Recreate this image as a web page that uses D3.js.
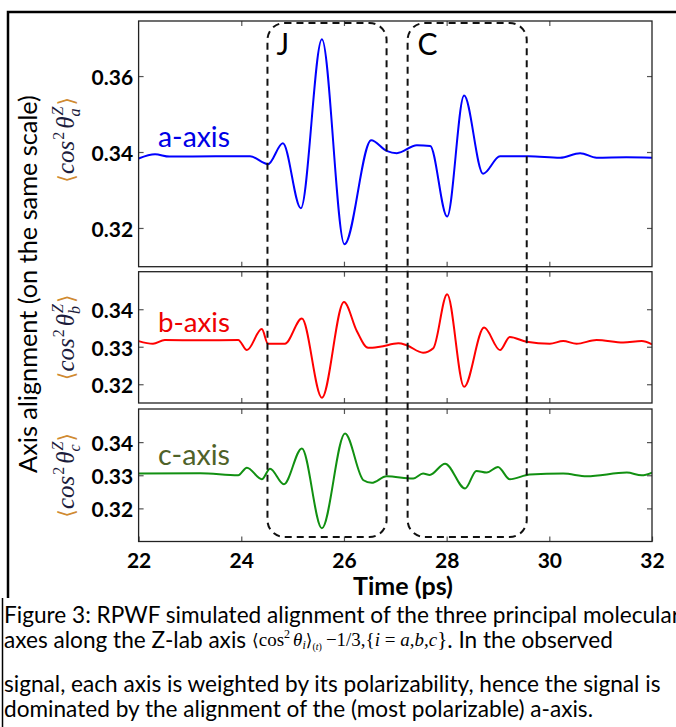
<!DOCTYPE html>
<html>
<head>
<meta charset="utf-8">
<script src="https://cdn.jsdelivr.net/npm/d3@7"></script>
<style>
body { margin: 0; background: #fff; }
svg { display: block; font-family: Lato, "Open Sans", sans-serif; }
</style>
</head>
<body>
<div id="main"></div>
<script>
// time axis (ps)
var xTicks = [22, 24, 26, 28, 30, 32];

// a-axis alignment
var timeA  = [22.0, 22.32, 22.6, 23.5, 24.17, 24.52, 24.81, 25.16, 25.57, 26.01, 26.53, 26.83, 27.03, 27.42, 27.68, 28.01, 28.34, 28.71, 29.04, 29.6, 30.21, 30.60, 30.92, 31.5, 32.0];
var alignA = [0.3383, 0.3394, 0.3388, 0.3389, 0.3389, 0.3368, 0.3423, 0.3252, 0.3697, 0.3157, 0.3431, 0.3403, 0.3397, 0.3418, 0.3416, 0.3230, 0.3549, 0.3343, 0.3389, 0.3389, 0.3385, 0.3397, 0.3385, 0.3386, 0.3385];

// b-axis alignment
var timeB  = [22.0, 22.28, 22.51, 23.2, 23.94, 24.11, 24.40, 24.52, 24.85, 25.18, 25.57, 26.00, 26.25, 26.47, 26.70, 27.06, 27.22, 27.54, 27.74, 28.01, 28.34, 28.73, 29.04, 29.23, 29.56, 30.01, 30.27, 30.53, 30.92, 31.44, 31.80, 32.0];
var alignB = [0.3315, 0.3308, 0.3318, 0.3317, 0.3318, 0.3291, 0.3347, 0.3308, 0.3308, 0.3375, 0.3164, 0.3419, 0.3342, 0.3297, 0.3300, 0.3309, 0.3304, 0.3284, 0.3296, 0.3440, 0.3193, 0.3351, 0.3291, 0.3326, 0.3313, 0.3308, 0.3315, 0.3308, 0.3318, 0.3311, 0.3315, 0.3306];

// c-axis alignment
var timeC  = [22.0, 23.2, 23.94, 24.11, 24.40, 24.56, 24.83, 25.18, 25.57, 26.02, 26.38, 26.54, 26.83, 27.35, 27.54, 27.67, 27.97, 28.36, 28.58, 28.78, 29.00, 29.23, 29.62, 30.27, 30.73, 31.51, 31.80, 32.0];
var alignC = [0.3305, 0.3306, 0.3300, 0.3323, 0.3288, 0.3320, 0.3273, 0.3381, 0.3140, 0.3426, 0.3285, 0.3277, 0.3297, 0.3290, 0.3305, 0.3301, 0.3335, 0.3260, 0.3313, 0.3308, 0.3325, 0.3288, 0.3302, 0.3305, 0.3297, 0.3308, 0.3300, 0.3308];

var ticksA = [0.32, 0.34, 0.36];
var ticksB = [0.32, 0.33, 0.34];
var ticksC = [0.32, 0.33, 0.34];

// dashed regions J and C
var regionNames = ["J", "C"];
var regionStart = [24.51, 27.24];
var regionEnd   = [26.83, 29.56];

var captionLines = [
    "Figure 3: RPWF simulated alignment of the three principal molecular",
    "axes along the Z-lab axis",
    ". In the observed",
    "signal, each axis is weighted by its polarizability, hence the signal is",
    "dominated by the alignment of the (most polarizable) a-axis."
];

var ctx = {
    w: 676,
    h: 727,
    left: 138.6,
    right: 652,
    boxTop: 23,
    boxBottom: 537
};

var panels = [
    { time: timeA, value: alignA, domain: [0.3098, 0.3745], top: 21, bottom: 266.7, ticks: ticksA,
      color: "#0000ff", label: "a-axis", labelColor: "#0000e6", labelY: 147, sub: "a" },
    { time: timeB, value: alignB, domain: [0.315, 0.35], top: 271.7, bottom: 403, ticks: ticksB,
      color: "#ff0000", label: "b-axis", labelColor: "#ee0000", labelY: 331.5, sub: "b" },
    { time: timeC, value: alignC, domain: [0.31, 0.35], top: 409, bottom: 541.5, ticks: ticksC,
      color: "#119011", label: "c-axis", labelColor: "#4f6228", labelY: 465, sub: "c" }
];

// scale a text's font size so it spans the given width
var fitWidth = function(sel, w) {
    sel.each(function() {
        var n = this.getComputedTextLength();
        var fs = parseFloat(d3.select(this).style("font-size"));
        if (n > 0) d3.select(this).style("font-size", (fs * w / n) + "px");
    });
};

var svg = d3.select("#main").append("svg")
    .attr("width", ctx.w)
    .attr("height", ctx.h);

var x = d3.scaleLinear().domain([22, 32]).range([ctx.left, ctx.right]);

// outer frame and caption rule
svg.append("path")
    .attr("d", "M8,598V12H676")
    .attr("fill", "none")
    .attr("stroke", "#000")
    .attr("stroke-width", 2.5);
svg.append("line")
    .attr("x1", 2.5).attr("x2", 2.5).attr("y1", 598).attr("y2", 727)
    .attr("stroke", "#000").attr("stroke-width", 1.5);

var line = d3.line().curve(d3.curveMonotoneX);

panels.forEach(function(p, i) {
    var y = d3.scaleLinear().domain(p.domain).range([p.bottom, p.top]);
    var g = svg.append("g");

    g.append("clipPath").attr("id", "clip" + i)
        .append("rect")
        .attr("x", ctx.left).attr("y", p.top)
        .attr("width", ctx.right - ctx.left).attr("height", p.bottom - p.top);

    // the curve
    g.append("path")
        .datum(p.time.map(function(t, k) { return [x(t), y(p.value[k])]; }))
        .attr("d", line)
        .attr("clip-path", "url(#clip" + i + ")")
        .attr("fill", "none")
        .attr("stroke", p.color)
        .attr("stroke-width", 2);

    // inward ticks on all four sides
    var yl = g.append("g").attr("transform", "translate(" + ctx.left + ",0)")
        .call(d3.axisLeft(y).tickValues(p.ticks).tickSize(-5).tickPadding(5.5).tickFormat(d3.format(".2f")));
    g.append("g").attr("transform", "translate(" + ctx.right + ",0)")
        .call(d3.axisRight(y).tickValues(p.ticks).tickSize(-5).tickFormat(""));
    g.append("g").attr("transform", "translate(0," + p.top + ")")
        .call(d3.axisTop(x).tickValues([24, 26, 28, 30]).tickSize(-5).tickFormat(""));
    g.append("g").attr("transform", "translate(0," + p.bottom + ")")
        .call(d3.axisBottom(x).tickValues(i == 2 ? xTicks : [24, 26, 28, 30]).tickSize(-5).tickPadding(12)
            .tickFormat(i == 2 ? d3.format("d") : ""));

    g.selectAll(".domain").remove();
    g.selectAll(".tick line").attr("stroke", "#555").attr("stroke-width", 1.2);
    g.selectAll(".tick text")
        .style("font-family", "Lato, sans-serif")
        .style("font-size", "21px")
        .style("font-weight", "bold")
        .attr("fill", "#000");
    yl.selectAll(".tick text").attr("dy", "0.4em");

    // frame
    g.append("rect")
        .attr("x", ctx.left).attr("y", p.top)
        .attr("width", ctx.right - ctx.left).attr("height", p.bottom - p.top)
        .attr("fill", "none")
        .attr("stroke", "#222")
        .attr("stroke-width", 1.3);

    // series label
    g.append("text")
        .attr("x", 158).attr("y", p.labelY)
        .attr("fill", p.labelColor)
        .style("font-size", "24px")
        .text(p.label)
        .call(fitWidth, 72);

    // rotated <cos^2 theta> label
    var cy = (p.top + p.bottom) / 2 + (i == 0 ? -4 : 0);
    var lt = g.append("g")
        .attr("transform", "translate(74," + cy + ") rotate(-90)")
        .append("text")
        .attr("text-anchor", "middle")
        .attr("fill", "#1c1c3c")
        .style("font-family", "'Liberation Serif', serif")
        .style("font-style", "italic")
        .style("font-size", "25px");
    lt.append("tspan").attr("fill", "#d08a30").style("font-style", "normal")
        .style("font-family", "'DejaVu Sans', sans-serif").style("font-size", "22px").text("\u27E8");
    lt.append("tspan").text("cos");
    lt.append("tspan").attr("dy", -10).attr("dx", 1).style("font-size", "16px").style("font-style", "normal").text("2");
    lt.append("tspan").attr("dy", 10).attr("dx", 3).text("\u03B8");
    lt.append("tspan").attr("dy", -11).attr("dx", 1).style("font-size", "16px").text("Z");
    lt.append("tspan").attr("dx", -10).attr("dy", 17).style("font-size", "16px").text(p.sub);
    lt.append("tspan").attr("dx", 3).attr("dy", -6).attr("fill", "#d08a30").style("font-style", "normal")
        .style("font-family", "'DejaVu Sans', sans-serif").style("font-size", "22px").text("\u27E9");
});

// dashed J / C regions
var regions = svg.selectAll(".region")
    .data(regionNames)
    .enter().append("g")
    .attr("class", "region");
regions.append("rect")
    .attr("x", function(d, i) { return x(regionStart[i]); })
    .attr("y", ctx.boxTop)
    .attr("width", function(d, i) { return x(regionEnd[i]) - x(regionStart[i]); })
    .attr("height", ctx.boxBottom - ctx.boxTop)
    .attr("rx", 17)
    .attr("fill", "none")
    .attr("stroke", "#111")
    .attr("stroke-width", 2)
    .attr("stroke-dasharray", "7,5");
regions.append("text")
    .attr("x", function(d, i) { return x(regionStart[i]) + (i == 0 ? 9 : 10); })
    .attr("y", 55)
    .style("font-size", "30px")
    .attr("fill", "#000")
    .text(function(d) { return d; });

// axis titles
svg.append("text")
    .attr("x", 403).attr("y", 595)
    .attr("text-anchor", "middle")
    .style("font-size", "22px")
    .style("font-weight", "bold")
    .text("Time (ps)")
    .call(fitWidth, 100);

svg.append("text")
    .attr("transform", "translate(37,284) rotate(-90)")
    .attr("text-anchor", "middle")
    .style("font-size", "22px")
    .text("Axis alignment (on the same scale)")
    .call(fitWidth, 378);

// caption: one common size, taken from the third line
var cap = svg.append("g").attr("fill", "#000");
var l3 = cap.append("text").attr("x", 4).attr("y", 691.5)
    .style("font-size", "19px").text(captionLines[3]).call(fitWidth, 657);
var capSize = l3.style("font-size");
cap.append("text").attr("x", 4).attr("y", 622.5).style("font-size", capSize).text(captionLines[0]);
var p1 = cap.append("text").attr("x", 4).attr("y", 648).style("font-size", capSize).text(captionLines[1]);
cap.append("text").attr("x", 4).attr("y", 716.5).style("font-size", capSize).text(captionLines[4]);

// inline formula <cos^2 theta_i>_(t) - 1/3, {i = a,b,c}
var eqX = 4 + p1.node().getComputedTextLength() + 6;
var eq = cap.append("text")
    .attr("x", eqX).attr("y", 646)
    .style("font-family", "'Liberation Serif', serif")
    .style("font-size", "19px");
eq.append("tspan").style("font-family", "'DejaVu Sans', sans-serif").style("font-size", "17px").text("\u27E8");
eq.append("tspan").text("cos");
eq.append("tspan").attr("dy", -8).style("font-size", "12px").text("2");
eq.append("tspan").attr("dy", 8).attr("dx", 3).style("font-style", "italic").text("\u03B8");
eq.append("tspan").attr("dy", 3).style("font-size", "12px").style("font-style", "italic").text("i");
eq.append("tspan").attr("dy", -3).style("font-family", "'DejaVu Sans', sans-serif").style("font-size", "17px").text("\u27E9");
eq.append("tspan").attr("dy", 4).style("font-size", "10px").text("(");
eq.append("tspan").style("font-size", "10px").style("font-style", "italic").text("t");
eq.append("tspan").style("font-size", "10px").text(")");
eq.append("tspan").attr("dy", -4).attr("dx", 4).text("\u22121/3,{");
eq.append("tspan").style("font-style", "italic").text("i");
eq.append("tspan").text(" = ");
eq.append("tspan").style("font-style", "italic").text("a");
eq.append("tspan").text(",");
eq.append("tspan").style("font-style", "italic").text("b");
eq.append("tspan").text(",");
eq.append("tspan").style("font-style", "italic").text("c");
eq.append("tspan").style("font-size", "21px").text("}");

var eqW = eq.node().getBBox().width;
cap.append("text").attr("x", eqX + eqW).attr("y", 648).style("font-size", capSize).text(captionLines[2]);
</script>
</body>
</html>
